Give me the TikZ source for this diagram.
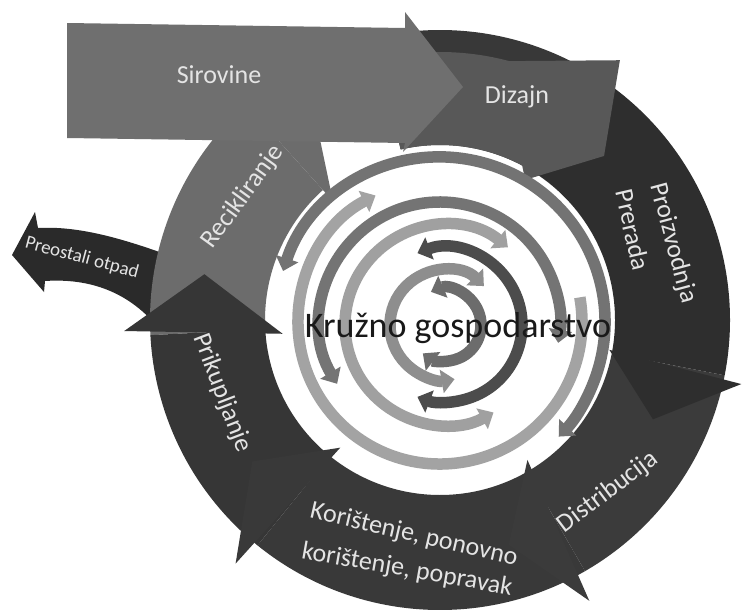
\documentclass[tikz,border=0pt]{standalone}
\usepackage{fontspec}
\setmainfont{Carlito}
\usetikzlibrary{arrows.meta}
\definecolor{cRec}{HTML}{6C6C6C}
\definecolor{cPrik}{HTML}{363636}
\definecolor{cKor}{HTML}{393939}
\definecolor{cDist}{HTML}{3B3B3B}
\definecolor{cProiz}{HTML}{2E2E2E}
\definecolor{cDizDark}{HTML}{383838}
\definecolor{cDiz}{HTML}{585858}
\definecolor{cSir}{HTML}{6F6F6F}
\definecolor{cOtpad}{HTML}{2A2A2A}
\definecolor{cTxt}{HTML}{E4E4E4}
\definecolor{gA}{HTML}{737373}
\definecolor{gC}{HTML}{A3A3A3}
\definecolor{gD}{HTML}{747474}
\definecolor{gLt}{HTML}{A0A0A0}
\definecolor{gDk}{HTML}{4C4C4C}
\definecolor{gM}{HTML}{8E8E8E}
\definecolor{gI}{HTML}{6C6C6C}
\begin{document}
\begin{tikzpicture}[x=1pt,y=1pt,
  lbl/.style={text=cTxt,inner sep=0pt,font=\fontsize{26pt}{31pt}\selectfont},
  smalllbl/.style={text=cTxt,inner sep=0pt,font=\fontsize{19pt}{23pt}\selectfont},
  inarc/.style={line width=11.5pt},
  dbl/.style={{Triangle[width=23pt,length=13pt]}-{Triangle[width=23pt,length=13pt]}},
  sgl/.style={-{Triangle[width=23pt,length=13pt]}}]
\useasboundingbox (0,0) rectangle (745,-616);
\fill[white] (0,0) rectangle (745,-616);

% Preostali otpad arrow (behind the ring)
\fill[cOtpad] (165,-254) .. controls (115,-236) and (75,-226) .. (38,-228)
  -- (35,-212) -- (12,-255) -- (44,-292) -- (45,-281)
  .. controls (90,-278) and (130,-292) .. (160,-330) -- cycle;

\begin{scope}[shift={(440,-320)}]
% Recikliranje
\fill[cRec] (183:290) arc[start angle=183,end angle=132,radius=290]
  -- (132:175) arc[start angle=132,end angle=183,radius=175] -- cycle;
\fill[cRec] (132:318) -- (121:245) -- (132:160) -- cycle;
% Prikupljanje
\fill[cPrik] (231:290) arc[start angle=231,end angle=183,radius=290]
  -- (183:175) arc[start angle=183,end angle=231,radius=175] -- cycle;
\fill[cPrik] (182:316) -- (169:240) -- (185:158) -- cycle;
% Koristenje
\fill[cKor] (300:290) arc[start angle=300,end angle=231,radius=290]
  -- (231:175) arc[start angle=231,end angle=300,radius=175] -- cycle;
\fill[cKor] (230:318) -- (217:235) -- (232:162) -- cycle;
% Distribucija
\fill[cDist] (349:290) arc[start angle=349,end angle=300,radius=290]
  -- (300:175) arc[start angle=300,end angle=349,radius=175] -- cycle;
\fill[cDist] (298:318) -- (287:235) -- (302:165) -- cycle;
% Proizvodnja
\fill[cProiz] (57:290) arc[start angle=57,end angle=-11,radius=290]
  -- (-11:175) arc[start angle=-11,end angle=57,radius=175] -- cycle;
\fill[cProiz] (-12:308) -- (-25:235) -- (-10:172) -- cycle;
% Dizajn
\fill[cDizDark] (103:290) arc[start angle=103,end angle=57,radius=290]
  -- (57:175) arc[start angle=57,end angle=103,radius=175] -- cycle;
\fill[cDiz] (103:268) arc[start angle=103,end angle=62,radius=268]
  -- (75:268) -- (55.3:316) -- (45:232) -- (58.7:164) -- (62:175)
  arc[start angle=62,end angle=103,radius=175] -- cycle;
\end{scope}

% Sirovine
\fill[cSir] (67,-23) -- (405,-28) -- (405,-12) -- (463,-87) -- (403,-152)
  -- (405,-143) -- (67,-138) -- cycle;

% inner arcs
\begin{scope}[shift={(440,-322)}]
\draw[inarc,gA,dbl] (162:165) arc[start angle=162,end angle=-44,radius=165];
\draw[inarc,gC,sgl] (10:142) arc[start angle=370,end angle=117,radius=142];
\draw[inarc,gD,dbl] (211:120) arc[start angle=211,end angle=-10,radius=120];
\end{scope}
\begin{scope}[shift={(445,-325)}]
\draw[inarc,gLt,dbl] (51:100) arc[start angle=51,end angle=299,radius=100];
\draw[inarc,gDk,dbl] (111:77) arc[start angle=111,end angle=-111,radius=77];
\draw[inarc,gM,dbl] (45:55) arc[start angle=45,end angle=280,radius=55];
\draw[inarc,gI,dbl] (113:36) arc[start angle=113,end angle=-128,radius=36];
\end{scope}

% labels
\node[lbl] (sir) at (219,-75) {Sirovine};
\node[lbl] (diz) at (517,-97) {Dizajn};
\node[lbl,rotate=54] (rec) at (243,-197) {Recikliranje};
\node[lbl,rotate=-75] (pro) at (673,-243) {Proizvodnja};
\node[lbl,rotate=-77] (pre) at (633,-230) {Prerada};
\node[lbl,rotate=37] (dis) at (608,-492) {Distribucija};
\node[lbl,rotate=-13] (kor1) at (414,-535) {Korištenje, ponovno};
\node[lbl,rotate=-10] (kor2) at (407,-570) {korištenje, popravak};
\node[lbl,rotate=-69] (pri) at (222,-393) {Prikupljanje};
\node[smalllbl,rotate=-15] (otp) at (82,-258) {Preostali otpad};
\node[anchor=base,inner sep=0pt,text=black!90,font=\fontsize{36pt}{43pt}\selectfont] (kg) at (458,-337) {Kružno gospodarstvo};
\end{tikzpicture}
\end{document}
